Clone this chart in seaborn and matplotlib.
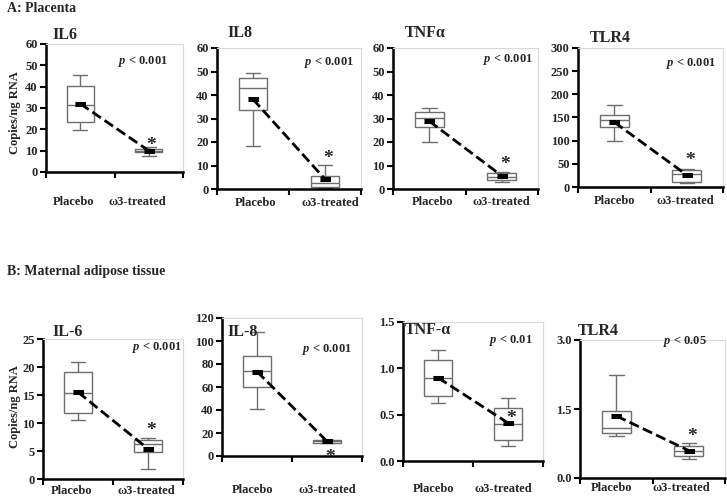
import numpy as np
import pandas as pd
import matplotlib
matplotlib.use("Agg")
import matplotlib.pyplot as plt
import seaborn as sns

# ---------------------------------------------------------------
# Datos: [mín, Q1, mediana, Q3, máx] por grupo
# ---------------------------------------------------------------
GRUPOS = ["Placebo", "ω3-treated"]

# A: Placenta
IL6_A_PLACEBO = [19.7, 23.3, 31.3, 40.1, 45.6]
IL6_A_OMEGA = [7.5, 9.2, 10.0, 10.8, 11.6]
IL6_A_MEDIAS = [32.0, 10.0]
IL8_A_PLACEBO = [18.2, 33.8, 42.8, 47.1, 49.3]
IL8_A_OMEGA = [0.3, 0.7, 2.4, 5.7, 10.3]
IL8_A_MEDIAS = [38.2, 4.2]
TNF_A_PLACEBO = [20.1, 26.4, 30.3, 32.7, 34.6]
TNF_A_OMEGA = [3.1, 3.9, 5.3, 6.7, 7.4]
TNF_A_MEDIAS = [28.9, 5.6]
TLR4_A_PLACEBO = [99.3, 128.8, 143.9, 156.0, 177.7]
TLR4_A_OMEGA = [8.6, 11.5, 27.3, 37.4, 39.6]
TLR4_A_MEDIAS = [140.0, 25.9]

# B: Tejido adiposo materno
IL6_B_PLACEBO = [10.5, 11.85, 15.36, 19.05, 20.9]
IL6_B_OMEGA = [1.85, 4.8, 6.25, 6.9, 7.4]
IL6_B_MEDIAS = [15.5, 5.4]
IL8_B_PLACEBO = [40.8, 60.0, 74.0, 87.1, 107.5]
IL8_B_OMEGA = [11.4, 11.4, 12.8, 14.3, 14.3]
IL8_B_MEDIAS = [73.4, 12.8]
TNF_B_PLACEBO = [0.626, 0.698, 0.892, 1.086, 1.194]
TNF_B_OMEGA = [0.158, 0.230, 0.403, 0.576, 0.680]
TNF_B_MEDIAS = [0.899, 0.41]
TLR4_B_PLACEBO = [0.915, 0.988, 1.097, 1.46, 2.237]
TLR4_B_OMEGA = [0.407, 0.472, 0.581, 0.697, 0.763]
TLR4_B_MEDIAS = [1.351, 0.596]

PANELES = [
    # titulo, placebo, omega, medias, asterisco_y, yticks, formato, pvalor
    ("IL6", IL6_A_PLACEBO, IL6_A_OMEGA, IL6_A_MEDIAS, 12.4, [0, 10, 20, 30, 40, 50, 60], "{:.0f}", "< 0.001"),
    ("IL8", IL8_A_PLACEBO, IL8_A_OMEGA, IL8_A_MEDIAS, 12.9, [0, 10, 20, 30, 40, 50, 60], "{:.0f}", "< 0.001"),
    ("TNFα", TNF_A_PLACEBO, TNF_A_OMEGA, TNF_A_MEDIAS, 10.3, [0, 10, 20, 30, 40, 50, 60], "{:.0f}", "< 0.001"),
    ("TLR4", TLR4_A_PLACEBO, TLR4_A_OMEGA, TLR4_A_MEDIAS, 57.6, [0, 50, 100, 150, 200, 250, 300], "{:.0f}", "< 0.001"),
    ("IL-6", IL6_B_PLACEBO, IL6_B_OMEGA, IL6_B_MEDIAS, 8.6, [0, 5, 10, 15, 20, 25], "{:.0f}", "< 0.001"),
    ("IL-8", IL8_B_PLACEBO, IL8_B_OMEGA, IL8_B_MEDIAS, -1.5, [0, 20, 40, 60, 80, 100, 120], "{:.0f}", "< 0.001"),
    ("TNF-α", TNF_B_PLACEBO, TNF_B_OMEGA, TNF_B_MEDIAS, 0.46, [0.0, 0.5, 1.0, 1.5], "{:.1f}", "< 0.01"),
    ("TLR4", TLR4_B_PLACEBO, TLR4_B_OMEGA, TLR4_B_MEDIAS, 0.893, [0.0, 1.5, 3.0], "{:.1f}", "< 0.05"),
]

# Layout en píxeles (izq, arriba, der, abajo) -- figura de 727x496
W, H = 727, 496
CAJAS_EJES = [
    (46, 44, 183, 172), (217, 48, 361, 189), (393, 48, 538, 189), (578, 48, 723, 187),
    (43, 339, 183, 479), (222, 318, 362, 456), (403, 322, 543, 461), (580, 340, 725, 478),
]
TITULOS_XY = [(52, 35), (227, 33), (405, 33), (590, 38),
              (52, 332), (227, 332), (405, 330), (578, 331)]
PVAL_XY = [(0.89, 0.86), (0.95, 0.90), (0.965, 0.915), (0.95, 0.89),
           (0.99, 0.936), (0.93, 0.775), (0.93, 0.87), (0.876, 0.99)]
PAD_LABELS = [17, 6, 5, 6, 4, 20, 16, 3]
# posición horizontal de las etiquetas de grupo (en unidades de categoría)
POS_LABELS = [(-0.1, 0.84), (0.03, 1.07), (0.04, 1.0), (0.0, 0.98),
              (-0.09, 0.97), (-0.07, 1.0), (-0.06, 0.93), (-0.07, 0.9)]

sns.set_theme(style="white")
plt.rcParams["font.family"] = ["Liberation Serif", "DejaVu Serif"]
plt.rcParams["font.weight"] = "bold"
plt.rcParams["mathtext.fontset"] = "custom"
plt.rcParams["mathtext.it"] = "Liberation Serif:bold:italic"
plt.rcParams["mathtext.rm"] = "Liberation Serif:bold"

fig = plt.figure(figsize=(W / 100, H / 100), dpi=100)
fig.patch.set_facecolor("white")

GRIS = "#6e6e6e"
marca_media = [(-1, -0.35), (1, -0.35), (1, 0.35), (-1, 0.35)]

for i, (titulo, placebo, omega, medias, ast_y, yticks, fmt, pval) in enumerate(PANELES):
    l, t, r, b = CAJAS_EJES[i]
    ax = fig.add_axes([l / W, 1 - b / H, (r - l) / W, (b - t) / H])

    df = pd.DataFrame({
        "grupo": [GRUPOS[0]] * len(placebo) + [GRUPOS[1]] * len(omega),
        "valor": placebo + omega,
    })
    sns.boxplot(data=df, x="grupo", y="valor", order=GRUPOS, whis=(0, 100),
                width=0.4, color="white", linecolor=GRIS, linewidth=1,
                showfliers=False, ax=ax)

    sns.lineplot(x=[0, 1], y=medias, color="black", linestyle="--", linewidth=2,
                 marker=marca_media, markersize=7, markeredgecolor="black",
                 ax=ax, zorder=5)

    ax.text(1.04, ast_y, "*", ha="center", va="center", fontsize=14,
            fontweight="bold", zorder=6)
    ax.text(PVAL_XY[i][0], PVAL_XY[i][1], r"$p$ " + pval, transform=ax.transAxes,
            ha="right", va="center", fontsize=9, fontweight="bold")

    ax.set_xlim(-0.5, 1.5)
    ax.set_ylim(yticks[0], yticks[-1])
    ax.set_yticks(yticks)
    ax.set_yticklabels([fmt.format(v) for v in yticks], fontsize=9, fontweight="bold")
    ax.set_xticks([-0.5, 0.5, 1.5])
    ax.set_xticklabels([])
    ax.set_xticks(list(POS_LABELS[i]), minor=True)
    ax.set_xticklabels(GRUPOS, minor=True, fontsize=9, fontweight="bold")
    ax.tick_params(axis="x", which="minor", length=0, pad=PAD_LABELS[i])
    ax.tick_params(axis="x", which="major", direction="out", length=4, width=1.5,
                   color="black", bottom=True)
    ax.tick_params(axis="y", direction="out", length=4, width=1.5, color="black",
                   left=True, pad=2)
    ax.set_xlabel("")
    ax.set_ylabel("")

    for lado in ["left", "bottom"]:
        ax.spines[lado].set_color("black")
        ax.spines[lado].set_linewidth(1.8)
    for lado in ["top", "right"]:
        ax.spines[lado].set_color("#d9d9d9")
        ax.spines[lado].set_linewidth(0.8)

    tx, ty = TITULOS_XY[i]
    fig.text(tx / W, 1 - ty / H, titulo, ha="left", va="center", fontsize=11.5,
             fontweight="bold")

fig.text(7 / W, 1 - 9 / H, "A: Placenta", ha="left", va="center", fontsize=10,
         fontweight="bold")
fig.text(7 / W, 1 - 272 / H, "B: Maternal adipose tissue", ha="left", va="center",
         fontsize=10, fontweight="bold")
fig.text(15 / W, 1 - 113 / H, "Copies/ng RNA", rotation=90, ha="center",
         va="center", fontsize=9, fontweight="bold")
fig.text(15 / W, 1 - 407 / H, "Copies/ng RNA", rotation=90, ha="center",
         va="center", fontsize=9, fontweight="bold")

fig.savefig("out.png", dpi=100)
